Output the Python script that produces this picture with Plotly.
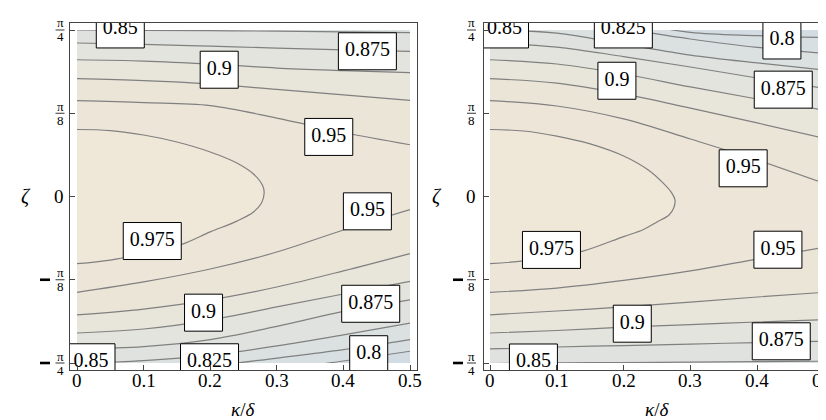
import numpy as np
import plotly.graph_objects as go

PI = np.pi

# ---------------- data ----------------
KAPPA = [0.0, 0.1, 0.2, 0.3, 0.4, 0.5]          # kappa/delta sample points
LEVELS = [0.8, 0.825, 0.85, 0.875, 0.9, 0.925, 0.95, 0.975]
BAND_COLORS = ['#d3dce2', '#d7dfe2', '#dbe1e1', '#dfe2df', '#e3e4dd',
               '#e8e5da', '#ebe5d8', '#ede6d8', '#efe7d7']

# left panel: zeta of each contour line at KAPPA
L_TOP_0850 = [0.786, 0.784, 0.782, 0.780, 0.777, 0.773]
L_TOP_0875 = [0.724, 0.718, 0.709, 0.700, 0.692, 0.685]
L_TOP_0900 = [0.645, 0.639, 0.625, 0.606, 0.594, 0.584]
L_TOP_0925 = [0.556, 0.547, 0.531, 0.505, 0.479, 0.453]
L_TOP_0950 = [0.452, 0.443, 0.429, 0.370, 0.302, 0.244]
L_BOT_0950 = [-0.452, -0.403, -0.342, -0.262, -0.158, -0.062]
L_BOT_0925 = [-0.558, -0.531, -0.488, -0.427, -0.351, -0.269]
L_BOT_0900 = [-0.644, -0.625, -0.583, -0.521, -0.460, -0.400]
L_BOT_0875 = [-0.719, -0.708, -0.675, -0.613, -0.542, -0.488]
L_BOT_0850 = [-0.787, -0.774, -0.748, -0.705, -0.653, -0.597]
L_BOT_0825 = [-0.837, -0.823, -0.800, -0.762, -0.722, -0.675]
L_BOT_0800 = [-0.884, -0.870, -0.847, -0.818, -0.776, -0.730]
L_0975_K = [0, 0.05, 0.1, 0.15, 0.2, 0.24, 0.265, 0.279, 0.281, 0.277, 0.265,
            0.24, 0.2, 0.156, 0.1, 0.05, 0]
L_0975_Z = [0.316, 0.311, 0.290, 0.257, 0.210, 0.158, 0.106, 0.050, 0.017,
            -0.031, -0.073, -0.116, -0.167, -0.227, -0.269, -0.300, -0.317]

# right panel
R_TOP_0800 = [0.936, 0.889, 0.828, 0.774, 0.759, 0.750]
R_TOP_0825 = [0.866, 0.837, 0.790, 0.743, 0.703, 0.675]
R_TOP_0850 = [0.786, 0.771, 0.719, 0.667, 0.630, 0.597]
R_TOP_0875 = [0.724, 0.705, 0.660, 0.611, 0.559, 0.510]
R_TOP_0900 = [0.645, 0.625, 0.578, 0.517, 0.460, 0.408]
R_TOP_0925 = [0.556, 0.535, 0.484, 0.417, 0.347, 0.275]
R_TOP_0950 = [0.452, 0.427, 0.366, 0.271, 0.172, 0.062]
R_BOT_0950 = [-0.452, -0.432, -0.396, -0.351, -0.295, -0.240]
R_BOT_0925 = [-0.558, -0.540, -0.521, -0.498, -0.474, -0.452]
R_BOT_0900 = [-0.644, -0.632, -0.616, -0.604, -0.592, -0.581]
R_BOT_0875 = [-0.719, -0.710, -0.703, -0.696, -0.689, -0.683]
R_BOT_0850 = [-0.788, -0.785, -0.783, -0.781, -0.779, -0.777]
R_0975_K = [0, 0.05, 0.1, 0.15, 0.2, 0.237, 0.259, 0.272, 0.277, 0.275, 0.268,
            0.25, 0.229, 0.2, 0.139, 0.1, 0.05, 0]
R_0975_Z = [0.316, 0.309, 0.285, 0.248, 0.191, 0.125, 0.064, 0.017, -0.017,
            -0.054, -0.087, -0.120, -0.157, -0.189, -0.258, -0.281, -0.304, -0.317]

# contour labels (text, kappa, zeta)
L_LABELS = [("0.85", 0.065, 0.788), ("0.875", 0.436, 0.685), ("0.9", 0.2135, 0.598),
            ("0.95", 0.378, 0.281), ("0.95", 0.436, -0.070), ("0.975", 0.113, -0.210),
            ("0.9", 0.190, -0.548), ("0.875", 0.441, -0.506), ("0.85", 0.021, -0.782),
            ("0.825", 0.199, -0.782), ("0.8", 0.438, -0.744)]
R_LABELS = [("0.85", 0.0217, 0.788), ("0.825", 0.1996, 0.788), ("0.8", 0.437, 0.736),
            ("0.9", 0.190, 0.546), ("0.875", 0.439, 0.504), ("0.95", 0.379, 0.133),
            ("0.975", 0.092, -0.252), ("0.95", 0.431, -0.251), ("0.9", 0.213, -0.600),
            ("0.875", 0.436, -0.683), ("0.85", 0.065, -0.783)]

X_TICKS = [0, 0.1, 0.2, 0.3, 0.4, 0.5]
X_TICK_TEXT = ["0", "0.1", "0.2", "0.3", "0.4", "0.5"]
Y_TICKS = [-PI / 4, -PI / 8, 0, PI / 8, PI / 4]
Y_TICK_DEN = ["4", "8", None, "8", "4"]

# ---------------- layout geometry (pixels) ----------------
W, H = 826, 420
SERIF = "Liberation Serif, Times New Roman, Times, DejaVu Serif, serif"
LINE_COL = "rgb(128,128,128)"
FRAME_COL = "#444444"

PANELS = [
    dict(inner=(69, 402, 22, 355), frame=(62, 409, 15, 362),
         top=[(0.85, L_TOP_0850), (0.875, L_TOP_0875), (0.9, L_TOP_0900),
              (0.925, L_TOP_0925), (0.95, L_TOP_0950)],
         bot=[(0.8, L_BOT_0800), (0.825, L_BOT_0825), (0.85, L_BOT_0850),
              (0.875, L_BOT_0875), (0.9, L_BOT_0900), (0.925, L_BOT_0925),
              (0.95, L_BOT_0950)],
         inner_k=L_0975_K, inner_z=L_0975_Z, labels=L_LABELS,
         frac_x=52, dash=(32, 42), zero_x=51, zeta_x=17.5),
    dict(inner=(482, 816, 22, 355), frame=(476, 819, 15, 362),
         top=[(0.8, R_TOP_0800), (0.825, R_TOP_0825), (0.85, R_TOP_0850),
              (0.875, R_TOP_0875), (0.9, R_TOP_0900), (0.925, R_TOP_0925),
              (0.95, R_TOP_0950)],
         bot=[(0.85, R_BOT_0850), (0.875, R_BOT_0875), (0.9, R_BOT_0900),
              (0.925, R_BOT_0925), (0.95, R_BOT_0950)],
         inner_k=R_0975_K, inner_z=R_0975_Z, labels=R_LABELS,
         frac_x=463.5, dash=(445, 455), zero_x=462.5, zeta_x=429),
]


def band_color(level):
    return BAND_COLORS[LEVELS.index(level)]


def text_width(s, size):
    return sum(0.25 if c == '.' else 0.5 for c in s) * size


fig = go.Figure()
layout = dict(width=W, height=H, margin=dict(l=0, r=0, t=0, b=0),
              paper_bgcolor="white", plot_bgcolor="rgba(0,0,0,0)",
              showlegend=False, shapes=[], annotations=[])

frame_traces = []
for i, P in enumerate(PANELS):
    ii, fi = 2 * i + 1, 2 * i + 2
    xin = 'x' if ii == 1 else f'x{ii}'
    yin = 'y' if ii == 1 else f'y{ii}'
    xfr, yfr = f'x{fi}', f'y{fi}'
    xl, xr, yt, yb = P['inner']
    fl, fr, ft, fb = P['frame']
    sx = 0.5 / (xr - xl)
    sy = (PI / 2) / (yb - yt)

    layout['xaxis' if ii == 1 else f'xaxis{ii}'] = dict(
        domain=[xl / W, xr / W], range=[0, 0.5], visible=False, anchor=yin,
        showgrid=False, zeroline=False)
    layout['yaxis' if ii == 1 else f'yaxis{ii}'] = dict(
        domain=[1 - yb / H, 1 - yt / H], range=[-PI / 4, PI / 4], visible=False,
        anchor=xin, showgrid=False, zeroline=False)
    layout[f'xaxis{fi}'] = dict(
        domain=[fl / W, fr / W], range=[-(xl - fl) * sx, 0.5 + (fr - xr) * sx],
        anchor=yfr, showline=True, mirror=True, linecolor=FRAME_COL, linewidth=1,
        ticks='inside', ticklen=5, tickcolor=FRAME_COL, tickwidth=1,
        tickvals=X_TICKS, showticklabels=False,
        showgrid=False, zeroline=False, fixedrange=True)
    layout[f'yaxis{fi}'] = dict(
        domain=[1 - fb / H, 1 - ft / H],
        range=[-PI / 4 - (fb - yb) * sy, PI / 4 + (yt - ft) * sy],
        anchor=xfr, showline=True, mirror=True, linecolor=FRAME_COL, linewidth=1,
        ticks='inside', ticklen=5, tickcolor=FRAME_COL, tickwidth=1,
        tickvals=Y_TICKS, showticklabels=False,
        showgrid=False, zeroline=False, fixedrange=True)

    # middle band background (0.95 - 0.975)
    layout['shapes'].append(dict(type='rect', xref=f'{xin} domain', yref=f'{yin} domain',
                                 x0=0, x1=1, y0=0, y1=1, layer='below',
                                 fillcolor=band_color(0.975), line=dict(width=0)))

    # filled bands: top chain then bottom chain
    for chain, edge in ((P['top'], 1.2), (P['bot'], -1.2)):
        fig.add_trace(go.Scatter(x=KAPPA, y=[edge] * len(KAPPA), mode='lines',
                                 line=dict(width=0), xaxis=xin, yaxis=yin,
                                 hoverinfo='skip'))
        for lev, zz in chain:
            fig.add_trace(go.Scatter(x=KAPPA, y=zz, mode='lines', fill='tonexty',
                                     fillcolor=band_color(lev),
                                     line=dict(width=0, shape='spline'),
                                     xaxis=xin, yaxis=yin, hoverinfo='skip'))
    fig.add_trace(go.Scatter(x=P['inner_k'], y=P['inner_z'], mode='lines',
                             fill='toself', fillcolor=BAND_COLORS[-1],
                             line=dict(width=0, shape='spline'),
                             xaxis=xin, yaxis=yin, hoverinfo='skip'))
    # contour lines
    for lev, zz in P['top'] + P['bot']:
        fig.add_trace(go.Scatter(x=KAPPA, y=zz, mode='lines',
                                 line=dict(color=LINE_COL, width=1.2, shape='spline'),
                                 xaxis=xin, yaxis=yin, hoverinfo='skip'))
    fig.add_trace(go.Scatter(x=P['inner_k'], y=P['inner_z'], mode='lines',
                             line=dict(color=LINE_COL, width=1.2, shape='spline'),
                             xaxis=xin, yaxis=yin, hoverinfo='skip'))

    # boxed contour labels (clipped at the frame)
    hh = 18.5 * sy
    for txt, kx, kz in P['labels']:
        hw = (text_width(txt, 20) + 13) / 2 * sx
        frame_traces.append(go.Scatter(
            x=[kx - hw, kx + hw, kx + hw, kx - hw, kx - hw],
            y=[kz - hh, kz - hh, kz + hh, kz + hh, kz - hh],
            mode='lines', fill='toself', fillcolor='white',
            line=dict(color='black', width=1), xaxis=xfr, yaxis=yfr,
            hoverinfo='skip'))
        frame_traces.append(go.Scatter(
            x=[kx], y=[kz], mode='text', text=[txt], textposition='middle center',
            textfont=dict(family=SERIF, size=20, color='black'),
            xaxis=xfr, yaxis=yfr, hoverinfo='skip'))

    # x tick labels
    for tv, tt in zip(X_TICKS, X_TICK_TEXT):
        layout['annotations'].append(dict(
            text=tt, x=tv, xref=xin, y=1 - 372 / H, yref='paper',
            showarrow=False, xanchor='center', yanchor='middle',
            font=dict(family=SERIF, size=19, color='black')))

    # y tick labels (fractions of pi)
    cx = P['frac_x']
    for tv, den in zip(Y_TICKS, Y_TICK_DEN):
        if den is None:
            layout['annotations'].append(dict(
                text='0', x=P['zero_x'] / W, xref='paper', y=tv, yref=yfr,
                showarrow=False, xanchor='center', yanchor='middle',
                font=dict(family=SERIF, size=19, color='black')))
            continue
        layout['annotations'].append(dict(
            text='π', x=cx / W, xref='paper', y=tv, yref=yfr, yshift=7,
            showarrow=False, xanchor='center', yanchor='middle',
            font=dict(family=SERIF, size=13, color='black')))
        layout['annotations'].append(dict(
            text=den, x=cx / W, xref='paper', y=tv, yref=yfr, yshift=-7,
            showarrow=False, xanchor='center', yanchor='middle',
            font=dict(family=SERIF, size=13, color='black')))
        layout['shapes'].append(dict(type='line', xref='paper', yref=yfr,
                                     x0=(cx - 4.5) / W, x1=(cx + 4.5) / W, y0=tv, y1=tv,
                                     line=dict(color='black', width=0.8)))
        if tv < 0:
            d0, d1 = P['dash']
            layout['shapes'].append(dict(type='line', xref='paper', yref=yfr,
                                         x0=d0 / W, x1=d1 / W, y0=tv, y1=tv,
                                         line=dict(color='black', width=2.6)))
    # axis titles
    layout['annotations'].append(dict(
        text='<i>ζ</i>', x=P['zeta_x'] / W, xref='paper', y=0, yref=yfr,
        showarrow=False, xanchor='center', yanchor='middle',
        font=dict(family=SERIF, size=20, color='black')))
    layout['annotations'].append(dict(
        text='<i>κ</i>/<i>δ</i>', x=(xl + xr) / 2 / W, xref='paper',
        y=1 - 401 / H, yref='paper', showarrow=False, xanchor='center',
        yanchor='middle', font=dict(family=SERIF, size=19, color='black')))

for t in frame_traces:
    fig.add_trace(t)

fig.update_layout(**layout)
fig.write_html("out.html")
